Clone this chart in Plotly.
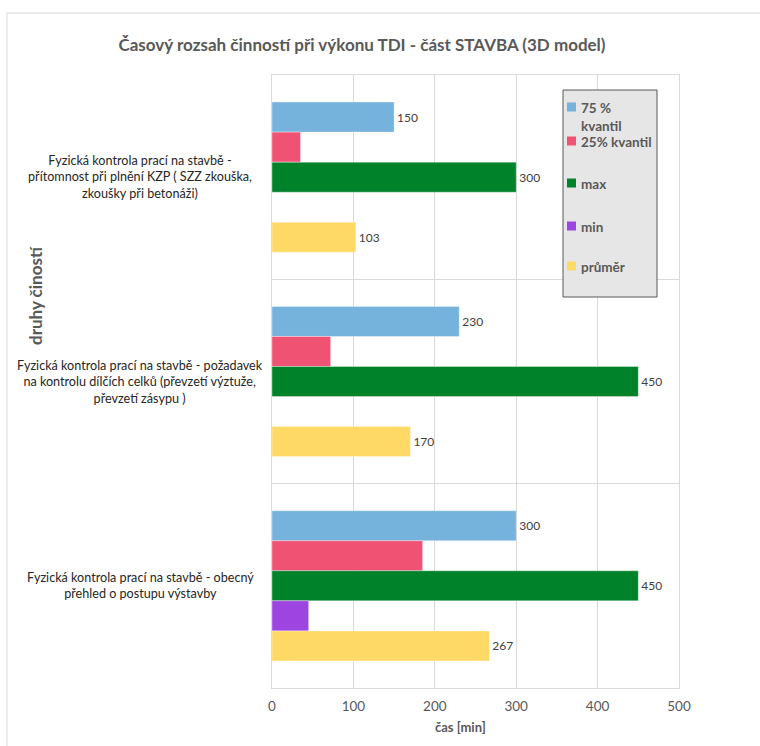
import plotly.graph_objects as go

# Activities (top to bottom) and their time statistics in minutes
categories = [
    "Fyzická kontrola prací na stavbě -<br>přítomnost při plnění KZP ( SZZ zkouška,<br>zkoušky při betonáži)",
    "Fyzická kontrola prací na stavbě - požadavek<br>na kontrolu dílčích celků (převzetí výztuže,<br>převzetí zásypu )",
    "Fyzická kontrola prací na stavbě - obecný<br>přehled o postupu výstavby",
]
cat_keys = ["KZP", "dilci", "obecny"]

series_names = ["75 % kvantil", "25% kvantil", "max", "min", "průměr"]
legend_labels = ["75 %<br>kvantil", "25% kvantil", "max", "min", "průměr"]
q75 = [150, 230, 300]
q25 = [35, 72, 185]
vmax = [300, 450, 450]
vmin = [0, 0, 45]
mean = [103, 170, 267]
series_values = [q75, q25, vmax, vmin, mean]
show_labels = [True, False, True, False, True]
colors = ["#75b2dc", "#f05274", "#00822b", "#9c45e0", "#ffd966"]

x_ticks = [0, 100, 200, 300, 400, 500]

FONT = "Lato, 'Open Sans', sans-serif"
W, H = 760, 746
L, R, T, B = 272, 81, 75, 58


def px(x):
    # pixel column -> paper x
    return (x - L) / (W - L - R)


def py(y):
    # pixel row -> paper y
    return (H - B - y) / (H - T - B)


fig = go.Figure()
for name, vals, lab, col in zip(series_names, series_values, show_labels, colors):
    fig.add_trace(go.Bar(
        name=name,
        y=cat_keys,
        x=vals,
        orientation="h",
        marker=dict(color=col, line=dict(color="rgba(255,255,255,0.35)", width=1)),
        text=[str(v) for v in vals] if lab else None,
        textposition="outside" if lab else "none",
        textfont=dict(family=FONT, size=12, color="#404040"),
        cliponaxis=False,
        showlegend=False,
    ))

annotations = []
# category labels, centred in the left margin
for key, txt in zip(cat_keys, categories):
    annotations.append(dict(
        x=px(140), xref="paper", y=key, yref="y",
        text=txt, showarrow=False, align="center",
        xanchor="center", yanchor="middle",
        font=dict(family=FONT, size=12.6, color="#262626"),
    ))

# y axis title
annotations.append(dict(
    x=px(35), xref="paper", y=py(296), yref="paper",
    text="<b>druhy čiností</b>", showarrow=False, textangle=-90,
    xanchor="center", yanchor="middle",
    font=dict(family=FONT, size=17, color="#595959"),
))

# x axis title
annotations.append(dict(
    x=px(460), xref="paper", y=py(727), yref="paper",
    text="<b>čas [min]</b>", showarrow=False,
    xanchor="center", yanchor="middle",
    font=dict(family=FONT, size=13, color="#595959"),
))

shapes = [
    # outer chart frame
    dict(type="line", xref="paper", yref="paper", x0=px(7), x1=px(770),
         y0=py(13), y1=py(13), line=dict(color="#d9d9d9", width=1)),
    dict(type="line", xref="paper", yref="paper", x0=px(7), x1=px(7),
         y0=py(13), y1=py(760), line=dict(color="#d9d9d9", width=1)),
    # legend box
    dict(type="rect", xref="paper", yref="paper", x0=px(563), x1=px(657),
         y0=py(297), y1=py(90), fillcolor="#e7e6e6",
         line=dict(color="#595959", width=1), layer="above"),
]

legend_rows = [107, 141, 183, 226, 266]
for lbl, col, yy in zip(legend_labels, colors, legend_rows):
    shapes.append(dict(type="rect", xref="paper", yref="paper",
                       x0=px(567), x1=px(576), y0=py(yy + 4.5), y1=py(yy - 4.5),
                       fillcolor=col, line=dict(width=0), layer="above"))
    annotations.append(dict(
        x=px(579), xref="paper", y=py(yy - 9.5), yref="paper",
        text="<b>" + lbl + "</b>", showarrow=False, align="left",
        xanchor="left", yanchor="top",
        font=dict(family=FONT, size=13.5, color="#595959"),
    ))

fig.update_layout(
    width=W, height=H,
    margin=dict(l=L, r=R, t=T, b=B),
    paper_bgcolor="white", plot_bgcolor="white",
    barmode="group", bargap=0.265, bargroupgap=0,
    title=dict(
        text="<b>Časový rozsah činností při výkonu TDI - část STAVBA (3D model)</b>",
        x=362 / W, xanchor="center", y=1 - 45 / H, yanchor="middle",
        xref="container", yref="container",
        font=dict(family=FONT, size=17, color="#595959"),
    ),
    xaxis=dict(
        range=[0, 500], tickvals=x_ticks, showgrid=True, gridcolor="#d9d9d9",
        showline=True, linecolor="#d9d9d9", mirror=True, zeroline=False,
        ticks="", ticklabelstandoff=6,
        tickfont=dict(family=FONT, size=13.5, color="#595959"),
        fixedrange=True,
    ),
    yaxis=dict(
        categoryorder="array", categoryarray=cat_keys, autorange="reversed",
        tickson="boundaries", showgrid=True, gridcolor="#d9d9d9",
        showline=True, linecolor="#d9d9d9", mirror=True,
        showticklabels=False, ticks="", fixedrange=True,
    ),
    shapes=shapes,
    annotations=annotations,
    showlegend=False,
)

fig.write_html("out.html")
